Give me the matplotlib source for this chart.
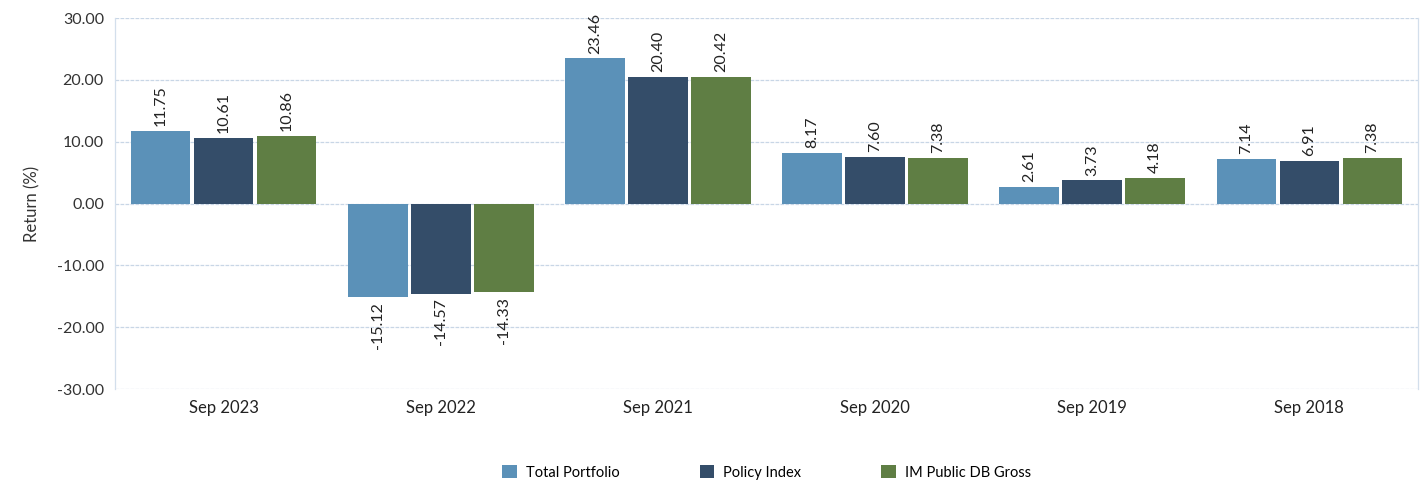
import numpy as np
import matplotlib.pyplot as plt

plt.rcParams['font.family'] = ['Lato', 'DejaVu Sans']

# データ
periods = ["Sep 2023", "Sep 2022", "Sep 2021", "Sep 2020", "Sep 2019", "Sep 2018"]
total_portfolio = [11.75, -15.12, 23.46, 8.17, 2.61, 7.14]
policy_index = [10.61, -14.57, 20.40, 7.60, 3.73, 6.91]
im_public_db = [10.86, -14.33, 20.42, 7.38, 4.18, 7.38]

series = [
    ("Total Portfolio", total_portfolio, "#5b91b8"),
    ("Policy Index", policy_index, "#344d69"),
    ("IM Public DB Gross", im_public_db, "#5f7e44"),
]

fig = plt.figure(figsize=(14.27, 4.83), dpi=100)
ax = fig.add_axes([0.0806, 0.1946, 0.9131, 0.7681])

x = np.arange(len(periods))
width = 0.275
offsets = [-0.29, 0.0, 0.29]

for (name, vals, color), off in zip(series, offsets):
    bars = ax.bar(x + off, vals, width, color=color, label=name, zorder=3)
    for b, v in zip(bars, vals):
        if v >= 0:
            ax.text(b.get_x() + b.get_width() / 2, v + 0.8, f"{v:.2f}",
                    rotation=90, ha='center', va='bottom', fontsize=11.5, color='#222222')
        else:
            ax.text(b.get_x() + b.get_width() / 2, v - 0.8, f"{v:.2f}",
                    rotation=90, ha='center', va='top', fontsize=11.5, color='#222222')

ax.set_xlim(-0.5, len(periods) - 0.5)
ax.set_ylim(-30, 30)
ax.set_yticks(np.arange(-30, 31, 10))
ax.set_yticklabels([f"{t:.2f}" for t in np.arange(-30, 31, 10)], fontsize=11.5, color='#333333')
ax.set_xticks(x)
ax.set_xticklabels(periods, fontsize=12, color='#222222')
ax.tick_params(axis='both', length=0, pad=8)
ax.set_ylabel("Return (%)", fontsize=12, color='#333333', labelpad=12)

ax.grid(axis='y', color='#c8d6e6', linestyle=(0, (3, 1)), linewidth=0.9, zorder=0)
for s in ['top', 'bottom']:
    ax.spines[s].set_visible(False)
for s in ['left', 'right']:
    ax.spines[s].set_color('#d3dfec')
    ax.spines[s].set_linewidth(0.9)

ax.legend(loc='upper center', bbox_to_anchor=(0.5, -0.17), ncol=3, frameon=False,
          fontsize=10.5, handlelength=1.0, handleheight=1.0, columnspacing=5.5,
          handletextpad=0.6)

plt.savefig("out.png", dpi=100)
